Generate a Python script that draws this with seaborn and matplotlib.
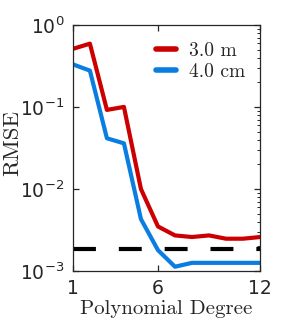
import numpy as np
import pandas as pd
import matplotlib
matplotlib.use("Agg")
import matplotlib.pyplot as plt
import seaborn as sns
from matplotlib.ticker import LogLocator, LogFormatterSciNotation, NullFormatter

# Data
degree = [1, 2, 3, 4, 5, 6, 7, 8, 9, 10, 11, 12]
rmse_3m = [0.51, 0.59, 0.092, 0.10, 0.010, 0.0035, 0.00272, 0.0026, 0.00272, 0.00248, 0.00248, 0.0026]
rmse_4cm = [0.33, 0.277, 0.0415, 0.036, 0.0043, 0.0018, 0.00113, 0.00126, 0.00126, 0.00126, 0.00126, 0.00126]
threshold = 0.00187

df = pd.DataFrame({
    "degree": degree * 2,
    "rmse": rmse_3m + rmse_4cm,
    "series": ["3.0 m"] * len(degree) + ["4.0 cm"] * len(degree),
})

sns.set_style("ticks")
plt.rcParams["font.family"] = ["DejaVu Sans"]

fig = plt.figure(figsize=(2.87, 3.27), dpi=100)
ax = fig.add_axes([0.254, 0.171, 0.652, 0.753])

sns.lineplot(data=df, x="degree", y="rmse", hue="series",
             palette={"3.0 m": "#cc0000", "4.0 cm": "#0a7de0"},
             linewidth=3, ax=ax)
ax.axhline(threshold, color="black", linewidth=3, dashes=(5.5, 5.5))

ax.set_yscale("log")
ax.set_xlim(1, 12)
ax.set_ylim(1e-3, 1)
ax.set_xticks([1, 6, 12])
ax.yaxis.set_major_locator(LogLocator(base=10, numticks=10))
ax.yaxis.set_major_formatter(LogFormatterSciNotation())
ax.yaxis.set_minor_locator(LogLocator(base=10, subs=np.arange(2, 10), numticks=10))
ax.yaxis.set_minor_formatter(NullFormatter())

ax.tick_params(which="both", direction="in", top=True, right=True, labelsize=13.5,
               color="#262626", labelcolor="#262626")
ax.tick_params(which="major", length=4, width=0.9, pad=6)
ax.tick_params(which="minor", length=2.5, width=0.7, left=False)
for s in ax.spines.values():
    s.set_color("#262626")
    s.set_linewidth(0.9)

ax.set_xlabel("Polynomial Degree", family="cmr10", fontsize=15, color="#262626", labelpad=1)
ax.set_ylabel("RMSE", family="cmr10", fontsize=16.5, color="#262626")
ax.yaxis.set_label_coords(-0.27, 0.52)

leg = ax.legend(loc="upper right", bbox_to_anchor=(1.0, 0.99), frameon=False,
                prop={"family": "cmr10", "size": 14}, handlelength=1.0,
                handletextpad=0.7, labelspacing=0.15, borderaxespad=0.35)
for line in leg.get_lines():
    line.set_linewidth(4)

fig.savefig("out.png", dpi=100)
